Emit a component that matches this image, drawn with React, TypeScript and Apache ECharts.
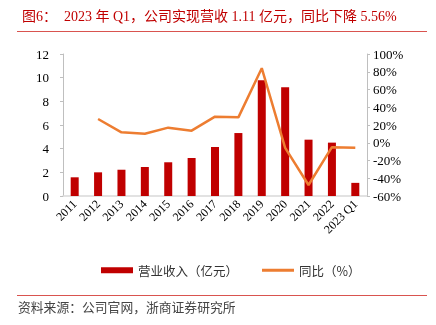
import React, { useEffect, useRef } from "react";
import * as echarts from "echarts";

const categories = ["2011", "2012", "2013", "2014", "2015", "2016", "2017", "2018", "2019", "2020", "2021", "2022", "2023 Q1"];
const revenue = [1.58, 2.0, 2.22, 2.45, 2.85, 3.21, 4.14, 5.32, 9.78, 9.19, 4.76, 4.51, 1.11];
const yoy = [null, 26.8, 11.7, 10.2, 17.0, 13.6, 29.4, 28.6, 84.0, -5.8, -47.6, -5.0, -5.56];
const leftTicks = [0, 12, 2];
const rightTicks = [-60, 100, 20];

const serif = "'Liberation Serif', 'Times New Roman', 'Noto Sans CJK SC', serif";
const cjk = "'Noto Sans CJK SC', sans-serif";

export default function App() {
  const ref = useRef<HTMLDivElement>(null);
  useEffect(() => {
    const chart = echarts.init(ref.current!, null, { renderer: "svg" });
    chart.setOption({
      animation: false,
      title: {
        text: "图6：  2023 年 Q1，公司实现营收 1.11 亿元，同比下降 5.56%",
        left: 17,
        top: 4,
        textStyle: { color: "#c00000", fontSize: 14, fontWeight: "normal", fontFamily: serif },
      },
      graphic: [
        { type: "line", shape: { x1: 17, y1: 31.5, x2: 427, y2: 31.5 }, style: { stroke: "#d9534f", lineWidth: 1 } },
        { type: "line", shape: { x1: 17, y1: 295.5, x2: 427, y2: 295.5 }, style: { stroke: "#d9534f", lineWidth: 1 } },
        {
          type: "text",
          left: 18,
          top: 302,
          style: { text: "资料来源：公司官网，浙商证券研究所", fill: "#444", fontSize: 12.8, fontFamily: serif },
        },
      ],
      legend: {
        top: 259,
        left: 96,
        itemGap: 24,
        itemWidth: 32,
        itemHeight: 6,
        textStyle: { fontSize: 12.5, color: "#333", fontFamily: cjk },
        data: [
          { name: "营业收入（亿元）", icon: "rect" },
          { name: "同比（%）", icon: "path://M0,0 L32,0 L32,3 L0,3 Z" },
        ],
      },
      grid: { left: 63, right: 69, top: 54, bottom: 129 },
      xAxis: {
        type: "category",
        data: categories,
        axisLine: { lineStyle: { color: "#d9d9d9", width: 1.5 } },
        axisTick: { show: false },
        axisLabel: { rotate: 45, color: "#000", fontSize: 12, fontFamily: serif, interval: 0, margin: 6 },
      },
      yAxis: [
        {
          type: "value",
          min: leftTicks[0],
          max: leftTicks[1],
          interval: leftTicks[2],
          splitLine: { show: false },
          axisLine: { show: true, lineStyle: { color: "#bfbfbf" } },
          axisTick: { show: true, length: 3, lineStyle: { color: "#bfbfbf" } },
          axisLabel: { color: "#000", fontSize: 13, fontFamily: serif, margin: 14 },
        },
        {
          type: "value",
          min: rightTicks[0],
          max: rightTicks[1],
          interval: rightTicks[2],
          splitLine: { show: false },
          axisLine: { show: true, lineStyle: { color: "#bfbfbf" } },
          axisTick: { show: true, length: 3, lineStyle: { color: "#bfbfbf" } },
          axisLabel: { color: "#000", fontSize: 13, fontFamily: serif, formatter: "{value}%", margin: 6 },
        },
      ],
      series: [
        {
          name: "营业收入（亿元）",
          type: "bar",
          data: revenue,
          barWidth: 8,
          itemStyle: { color: "#c00000" },
        },
        {
          name: "同比（%）",
          type: "line",
          yAxisIndex: 1,
          data: yoy,
          symbol: "none",
          lineStyle: { color: "#ed7d31", width: 2.5 },
          itemStyle: { color: "#ed7d31" },
        },
      ],
    });
    return () => chart.dispose();
  }, []);
  return <div ref={ref} style={{ position: "fixed", left: 0, top: 0, width: 436, height: 325 }} />;
}
